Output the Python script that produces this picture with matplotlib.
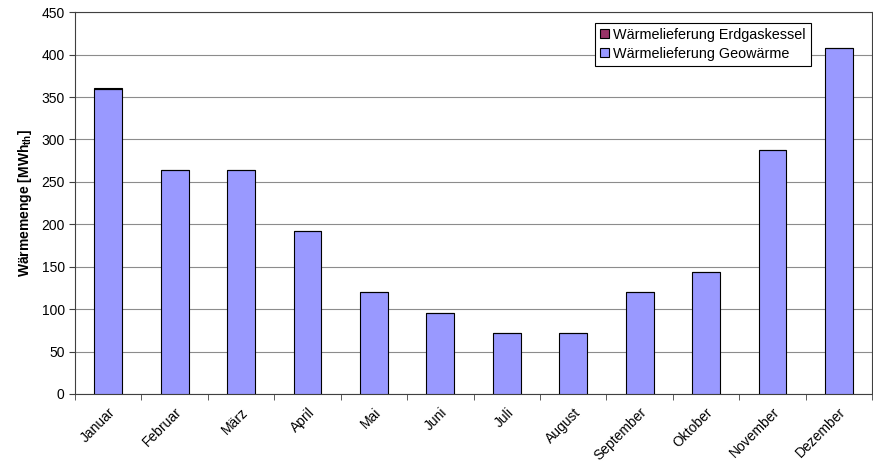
import numpy as np
import matplotlib.pyplot as plt
import matplotlib.ticker as mticker

plt.rcParams.update({
    "font.family": ["Liberation Sans", "DejaVu Sans"],
    "font.size": 10,
})

months = ["Januar", "Februar", "März", "April", "Mai", "Juni", "Juli",
          "August", "September", "Oktober", "November", "Dezember"]
geowaerme = [360, 264, 264, 192, 120, 96, 72, 72, 120, 144, 288, 408]
erdgas = [1, 0, 0, 0, 0, 0, 0, 0, 0, 0, 0, 0]

fig = plt.figure(figsize=(8.73, 4.69), dpi=100)
ax = fig.add_axes([0.086, 0.16, 0.913, 0.814])

x = np.arange(len(months))
w = 0.42
ax.bar(x, geowaerme, w, color="#9999FF", edgecolor="black", linewidth=0.8,
       label="Wärmelieferung Geowärme", zorder=3)
ax.bar(x, erdgas, w, bottom=geowaerme, color="#993366", edgecolor="black",
       linewidth=0.8, label="Wärmelieferung Erdgaskessel", zorder=3)

ax.set_xlim(-0.5, len(months) - 0.5)
ax.set_ylim(0, 450)
ax.yaxis.set_major_locator(mticker.MultipleLocator(50))
ax.yaxis.grid(True, color="#8c8c8c", linewidth=0.8)
ax.set_axisbelow(True)

ax.set_xticks(x)
ax.set_xticklabels(months, rotation=45, ha="right", rotation_mode="anchor")
ax.tick_params(axis="x", which="major", length=0, pad=8)
ax.set_xticks(np.arange(-0.5, len(months)), minor=True)
ax.tick_params(axis="x", which="minor", length=4, color="#404040")
ax.tick_params(axis="y", length=4, color="#404040")

for s in ax.spines.values():
    s.set_color("#404040")
    s.set_linewidth(0.8)

ax.set_ylabel("Wärmemenge [MWh$_\\mathregular{th}$]", fontweight="bold",
              labelpad=5)

h, l = ax.get_legend_handles_labels()
leg = ax.legend(h[::-1], l[::-1], loc="upper right",
                bbox_to_anchor=(0.923, 0.972), borderaxespad=0,
                fancybox=False, edgecolor="black", framealpha=1,
                handlelength=0.6, handleheight=0.6, handletextpad=0.3,
                borderpad=0.35, labelspacing=0.35, fontsize=10.4)
leg.get_frame().set_linewidth(0.8)

fig.savefig("out.png", dpi=100, facecolor="white")
